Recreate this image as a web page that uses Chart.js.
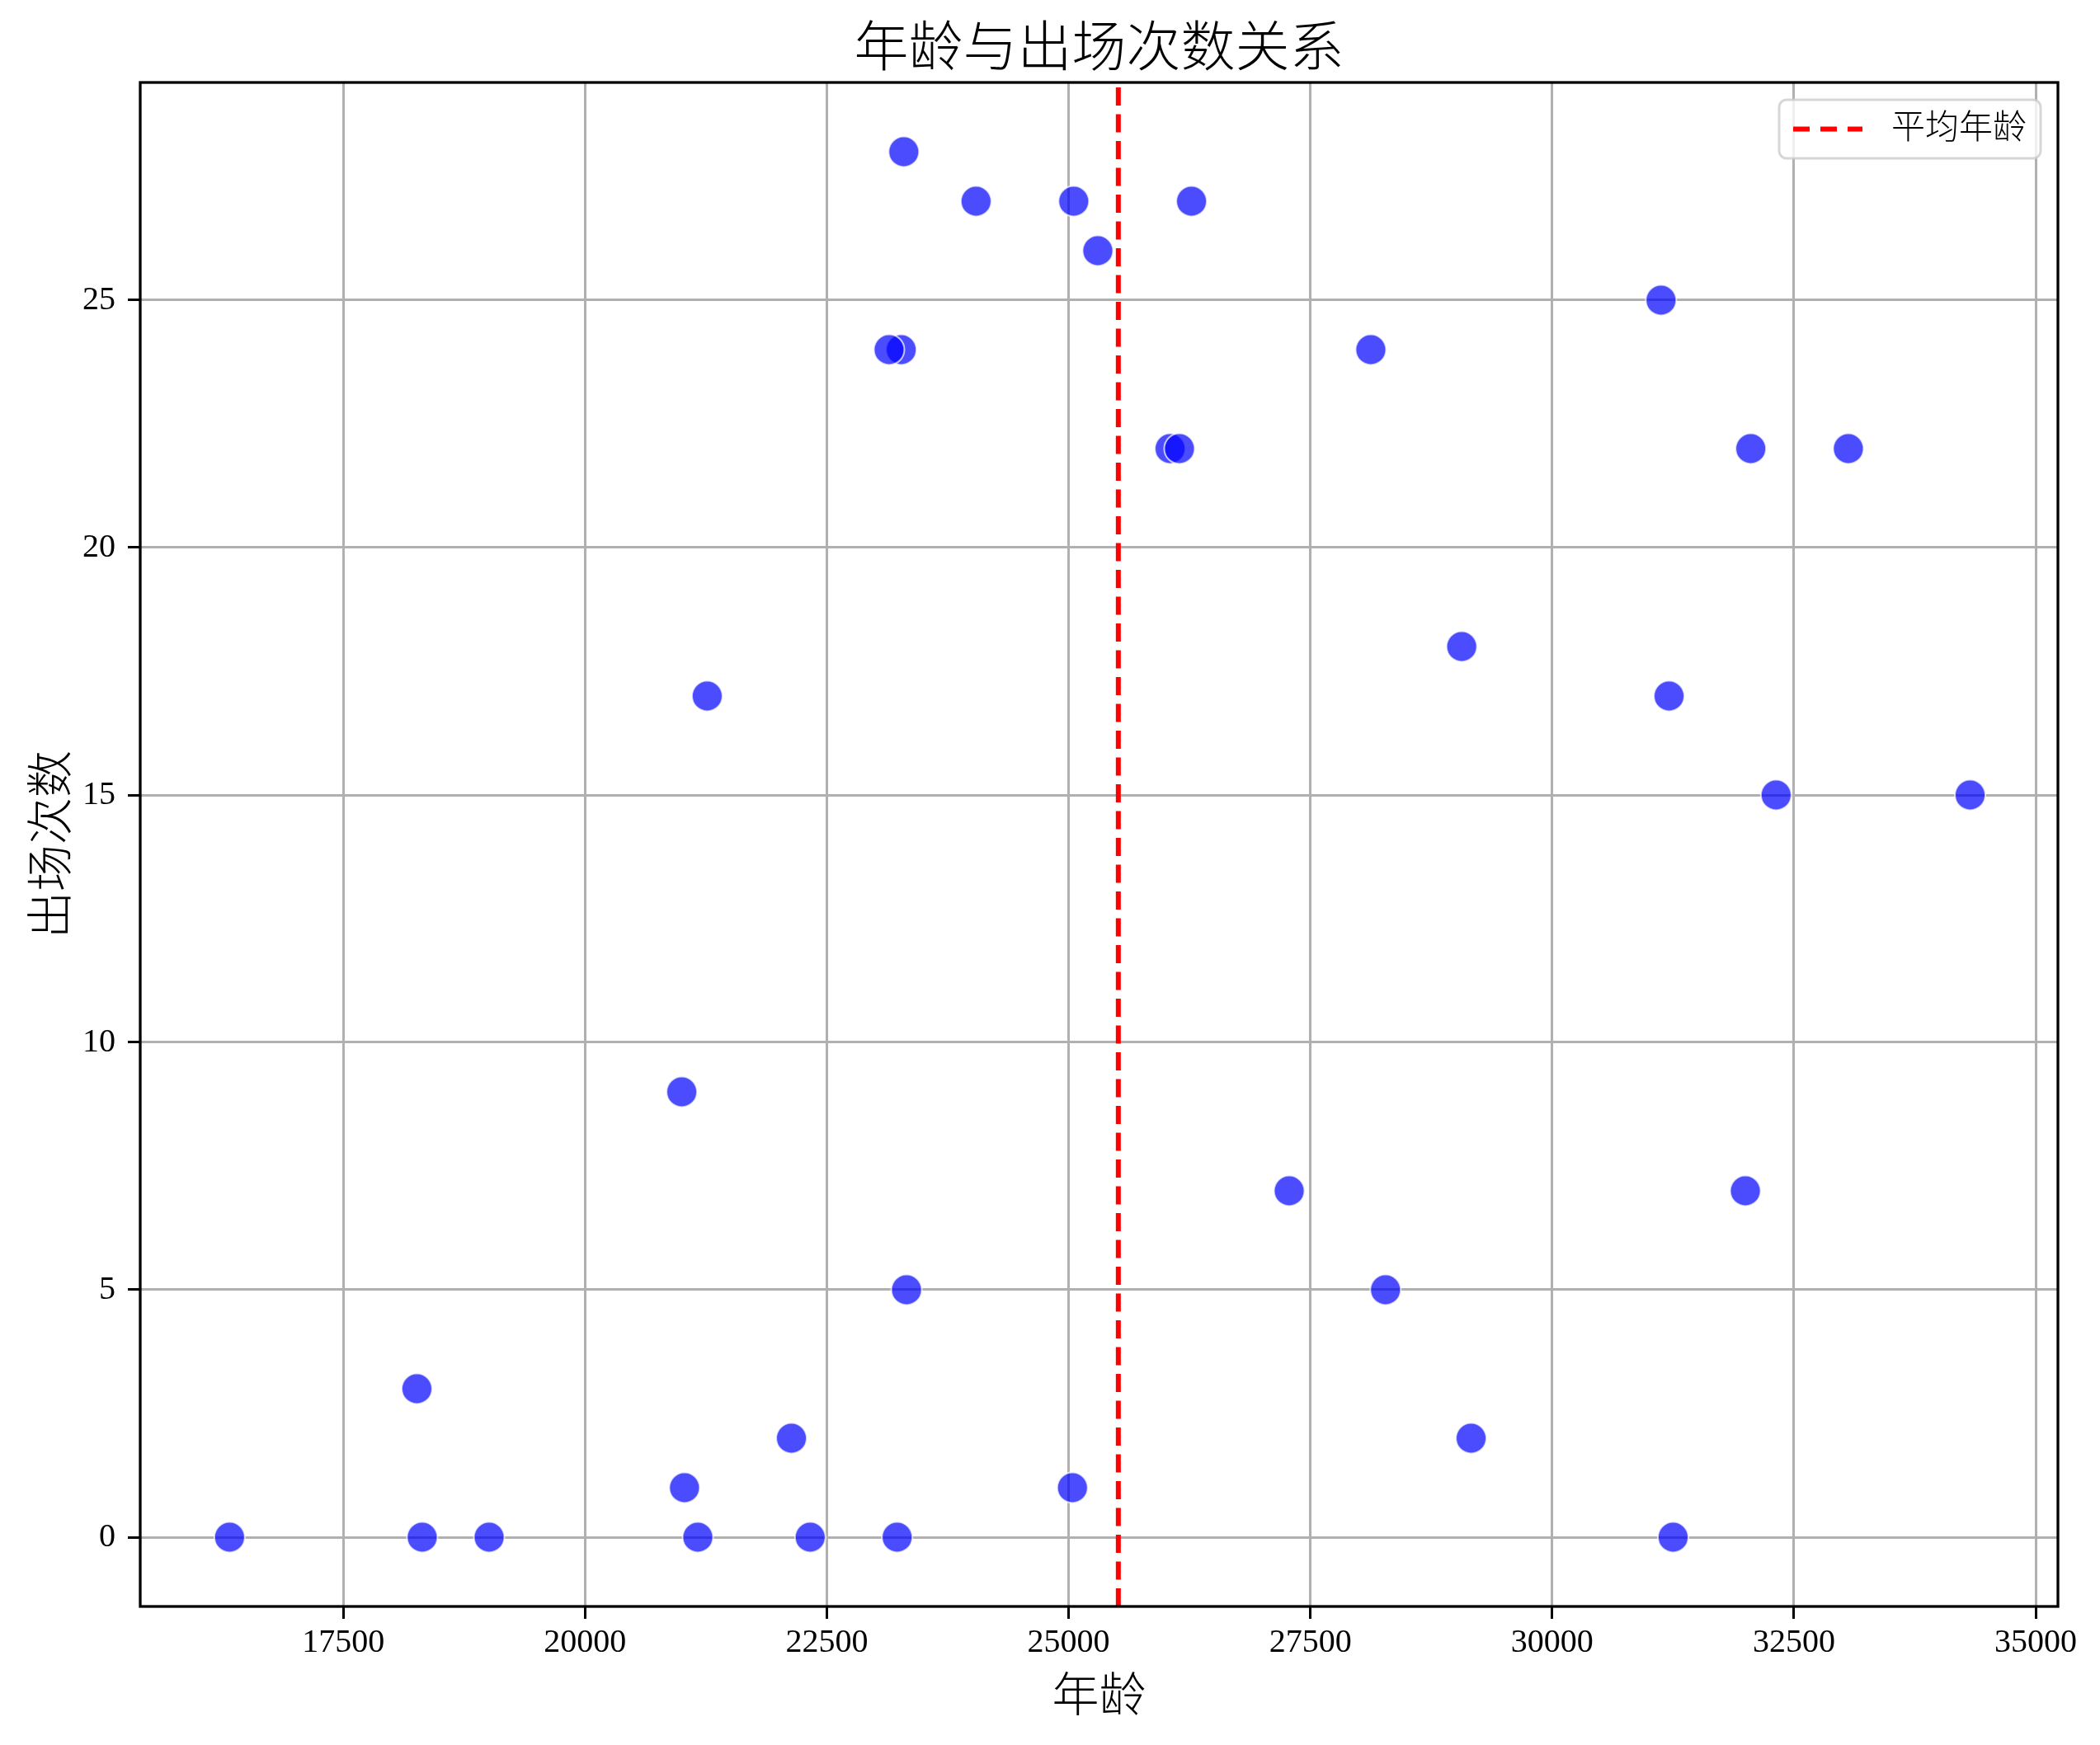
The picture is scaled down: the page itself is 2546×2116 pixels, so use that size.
<!DOCTYPE html>
<html>
<head>
<meta charset="utf-8">
<script src="https://cdn.jsdelivr.net/npm/chart.js@4.4.1/dist/chart.umd.min.js"></script>
<style>
  body { margin: 0; background: #fff; }
</style>
</head>
<body>
<canvas id="myChart" width="2546" height="2116"></canvas>
<script>
// values
const ages = [
    16324, 18316, 19008, 21166, 22328, 23227, 31251,
    21028, 25040, 22134, 29162, 18261, 23324, 28277,
    27281, 31998, 21000, 32316, 34322, 21263, 31209,
    29065, 26049, 26146, 32054, 33063, 23269, 23144,
    28125, 31126, 25302, 24043, 25053, 26271, 23296
];
const appearances = [
    0, 0, 0, 0, 0, 0, 0,
    1, 1, 2, 2, 3, 5, 5,
    7, 7, 9, 15, 15, 17, 17,
    18, 22, 22, 22, 22, 24, 24,
    24, 25, 26, 27, 27, 27, 28
];
const meanAge = 25514;
const xTicks = [17500, 20000, 22500, 25000, 27500, 30000, 32500, 35000];
const yTicks = [0, 5, 10, 15, 20, 25];
const xRange = [15400, 35230];
const yRange = [-1.4, 29.4];

const fontFamily = "'Liberation Serif', 'Noto Sans CJK SC', serif";

// mean line, frame and legend, drawn after the points and grid
const decorations = {
    id: 'decorations',
    afterDraw(chart) {
        const ctx = chart.ctx;
        const a = chart.chartArea;
        const mx = chart.scales.x.getPixelForValue(meanAge);
        ctx.save();

        ctx.strokeStyle = 'red';
        ctx.lineWidth = 6;
        ctx.setLineDash([22, 10.5]);
        ctx.beginPath();
        ctx.moveTo(mx, a.bottom);
        ctx.lineTo(mx, a.top);
        ctx.stroke();
        ctx.setLineDash([]);

        ctx.strokeStyle = '#000';
        ctx.lineWidth = 3.3;
        ctx.strokeRect(a.left, a.top, a.right - a.left, a.bottom - a.top);

        // legend
        const w = 317, h = 71;
        const lx = a.right - 21 - w, ly = a.top + 21;
        ctx.fillStyle = 'rgba(255,255,255,0.8)';
        ctx.strokeStyle = 'rgba(204,204,204,0.8)';
        ctx.lineWidth = 3;
        ctx.beginPath();
        ctx.roundRect(lx, ly, w, h, 9);
        ctx.fill();
        ctx.stroke();

        const cy = ly + h / 2;
        ctx.strokeStyle = 'red';
        ctx.lineWidth = 6;
        ctx.setLineDash([20, 13]);
        ctx.beginPath();
        ctx.moveTo(lx + 17, cy);
        ctx.lineTo(lx + 101, cy);
        ctx.stroke();
        ctx.setLineDash([]);

        ctx.fillStyle = '#000';
        ctx.font = "300 41px " + fontFamily;
        ctx.textBaseline = 'middle';
        ctx.textAlign = 'left';
        ctx.fillText('平均年龄', lx + 136, cy + 1);

        ctx.restore();
    }
};

const data = {
    datasets: [{
        label: '球员',
        data: ages.map((a, i) => ({x: a, y: appearances[i]})),
        backgroundColor: 'rgba(0, 0, 255, 0.7)',
        borderColor: 'rgba(255, 255, 255, 0.7)',
        borderWidth: 2,
        pointRadius: 18.5,
        pointHoverRadius: 18.5
    }]
};

const config = {
    type: 'scatter',
    data: data,
    options: {
        responsive: false,
        animation: false,
        events: [],
        layout: { padding: { left: 0, right: 51, top: 0, bottom: 0 } },
        plugins: {
            legend: { display: false },
            tooltip: { enabled: false },
            title: {
                display: true,
                text: '年龄与出场次数关系',
                fullSize: false,
                color: '#000',
                font: { family: fontFamily, size: 66, weight: '300', lineHeight: 1 },
                padding: { top: 30, bottom: 4 }
            }
        },
        scales: {
            x: {
                type: 'linear',
                min: xRange[0],
                max: xRange[1],
                z: 1,
                afterBuildTicks: s => { s.ticks = xTicks.map(v => ({value: v})); },
                afterFit: s => { s.height = 168; },
                ticks: {
                    color: '#000',
                    padding: 5,
                    maxRotation: 0,
                    font: { family: fontFamily, size: 40 },
                    callback: v => String(v)
                },
                grid: {
                    color: '#b0b0b0',
                    lineWidth: 3,
                    tickColor: '#000',
                    tickWidth: 3,
                    tickLength: 15
                },
                border: { display: false },
                title: {
                    display: true,
                    text: '年龄',
                    color: '#000',
                    font: { family: fontFamily, size: 57, weight: '300' },
                    padding: { top: 0, bottom: 22 }
                }
            },
            y: {
                type: 'linear',
                min: yRange[0],
                max: yRange[1],
                z: 1,
                afterBuildTicks: s => { s.ticks = yTicks.map(v => ({value: v})); },
                afterFit: s => { s.width = 170; },
                ticks: {
                    color: '#000',
                    padding: 15,
                    font: { family: fontFamily, size: 40 },
                    callback: v => String(v)
                },
                grid: {
                    color: '#b0b0b0',
                    lineWidth: 3,
                    tickColor: '#000',
                    tickWidth: 3,
                    tickLength: 15
                },
                border: { display: false },
                title: {
                    display: true,
                    text: '出场次数',
                    color: '#000',
                    font: { family: fontFamily, size: 57, weight: '300' },
                    padding: { top: 32, bottom: 0 }
                }
            }
        }
    },
    plugins: [decorations]
};

const myChart = new Chart(document.getElementById('myChart'), config);
</script>
</body>
</html>
